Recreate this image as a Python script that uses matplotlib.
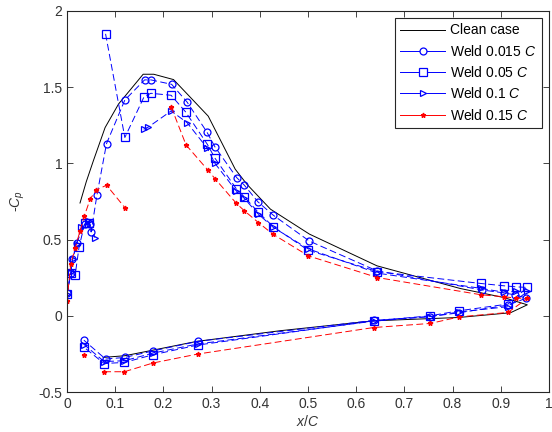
import numpy as np
import matplotlib
matplotlib.use("Agg")
import matplotlib.pyplot as plt
from matplotlib.lines import Line2D
from matplotlib.ticker import FormatStrFormatter

plt.rcParams['font.family'] = ['Liberation Sans', 'DejaVu Sans']
plt.rcParams['mathtext.fontset'] = 'custom'
plt.rcParams['mathtext.rm'] = 'Liberation Sans'
plt.rcParams['mathtext.it'] = 'Liberation Sans:italic'

nan = np.nan

# clean case (upper surface LE->TE, then lower surface TE->LE)
x_clean = [0.027, 0.04, 0.055, 0.079, 0.107, 0.158, 0.18, 0.221, 0.293, 0.349, 0.373, 0.422, 0.503,
           0.643, 0.816, 0.906, 0.955, 0.92, 0.813, 0.636, 0.442, 0.269, 0.179, 0.12, 0.075]
y_clean = [0.74, 0.88, 1.02, 1.235, 1.39, 1.585, 1.585, 1.55, 1.31, 0.962, 0.864, 0.70, 0.536,
           0.328, 0.179, 0.12, 0.072, 0.02, -0.011, -0.033, -0.098, -0.168, -0.225, -0.262, -0.273]

# weld 0.015 C
x_w1 = [0.0, 0.008, 0.011, 0.02, 0.037, 0.048, 0.05, 0.062, 0.082, 0.12, 0.161, 0.174, 0.217, 0.249,
        0.29, 0.307, 0.352, 0.368, 0.396, 0.428, 0.503, 0.643, 0.86, 0.907, 0.93, 0.953,
        0.915, 0.813, 0.754, 0.636, 0.271, 0.179, 0.12, 0.08, 0.035]
y_w1 = [0.15, 0.28, 0.37, 0.48, 0.60, 0.60, 0.55, 0.79, 1.13, 1.416, 1.548, 1.548, 1.519, 1.403,
        1.207, 1.108, 0.907, 0.857, 0.748, 0.66, 0.49, 0.295, 0.17, 0.15, 0.137, 0.116,
        0.07, 0.02, -0.005, -0.03, -0.168, -0.23, -0.273, -0.284, -0.16]

# weld 0.05 C
x_w2 = [0.0, 0.008, 0.017, 0.025, 0.037, 0.045, nan, 0.08, 0.12, 0.16, 0.174, 0.216, 0.246, 0.291,
        0.307, 0.351, 0.368, 0.396, 0.428, 0.5, 0.644, 0.859, 0.906, 0.932, 0.955,
        0.915, 0.813, 0.754, 0.636, 0.271, 0.178, 0.119, 0.077, 0.036]
y_w2 = [0.14, 0.28, 0.27, 0.45, 0.61, 0.61, nan, 1.85, 1.17, 1.438, 1.46, 1.447, 1.338, 1.126,
        1.034, 0.835, 0.78, 0.682, 0.584, 0.431, 0.29, 0.212, 0.197, 0.19, 0.186,
        0.077, 0.033, 0.0, -0.033, -0.192, -0.256, -0.306, -0.313, -0.208]

# weld 0.1 C
x_w3 = [0.0, 0.008, 0.012, 0.02, 0.03, 0.045, 0.058, nan, 0.159, 0.169, 0.216, 0.249, 0.291, 0.307,
        0.351, 0.368, 0.396, 0.428, 0.5, 0.644, 0.859, 0.906, 0.932, 0.955,
        0.915, 0.813, 0.754, 0.636, 0.271, 0.178, 0.119, 0.077, 0.036]
y_w3 = [0.14, 0.29, 0.37, 0.47, 0.58, 0.62, 0.513, nan, 1.224, 1.239, 1.344, 1.268, 1.10, 1.00,
        0.82, 0.77, 0.67, 0.58, 0.44, 0.28, 0.18, 0.155, 0.16, 0.16,
        0.06, 0.025, -0.005, -0.035, -0.185, -0.245, -0.295, -0.30, -0.19]

# weld 0.15 C
x_w4 = [0.0, 0.008, 0.017, 0.027, 0.036, 0.048, 0.06, 0.082, 0.12, nan, 0.216, 0.247, 0.292, 0.307,
        0.351, 0.368, 0.397, 0.427, 0.501, 0.644, 0.859, 0.906, 0.932, 0.955,
        0.915, 0.814, 0.754, 0.636, 0.271, 0.178, 0.119, 0.077, nan, 0.036]
y_w4 = [0.10, 0.343, 0.444, 0.557, 0.655, 0.765, 0.824, 0.857, 0.71, nan, 1.372, 1.121, 0.957, 0.9,
        0.739, 0.689, 0.612, 0.536, 0.393, 0.251, 0.138, 0.125, 0.116, 0.114,
        0.022, -0.007, -0.05, -0.077, -0.251, -0.31, -0.367, -0.367, nan, -0.256]

labels = ['Clean case', 'Weld 0.015 $C$', 'Weld 0.05 $C$', 'Weld 0.1 $C$', 'Weld 0.15 $C$']

fig = plt.figure(figsize=(5.52, 4.32), dpi=100)
ax = fig.add_axes([67 / 552, 40 / 432, 482 / 552, 381 / 432])

lw = 0.7
mw = 0.9
dash = (0, (7, 3.5))
ax.plot(x_clean, y_clean, color='k', lw=lw)
ax.plot(x_w1, y_w1, color='b', lw=lw, ls=dash, marker='o', ms=5, mfc='none', mec='b', mew=mw)
ax.plot(x_w2, y_w2, color='b', lw=lw, ls=dash, marker='s', ms=5.5, mfc='none', mec='b', mew=mw)
ax.plot(x_w3, y_w3, color='b', lw=lw, ls=dash, marker='>', ms=5, mfc='none', mec='b', mew=mw)
ax.plot(x_w4, y_w4, color='r', lw=lw, ls=dash, marker='*', ms=3.5)

ax.set_xlim(0, 1)
ax.set_ylim(-0.5, 2)
ax.set_xticks(np.arange(0, 1.01, 0.1))
ax.set_yticks(np.arange(-0.5, 2.01, 0.5))
ax.xaxis.set_major_formatter(FormatStrFormatter('%g'))
ax.yaxis.set_major_formatter(FormatStrFormatter('%g'))
ax.tick_params(direction='in', top=True, right=True, labelsize=10, length=4, width=0.6,
               colors='#262626', labelcolor='#333333')
for s in ax.spines.values():
    s.set_color('#262626')
    s.set_linewidth(0.8)

ax.set_xlabel('$x/C$', fontsize=10, labelpad=2, color='#333333')
ax.set_ylabel('-$C_p$', fontsize=10, labelpad=8, color='#333333')

# legend shows solid lines
handles = [Line2D([], [], color='k', lw=lw),
           Line2D([], [], color='b', lw=lw, marker='o', ms=5, mfc='w', mew=mw),
           Line2D([], [], color='b', lw=lw, marker='s', ms=5.5, mfc='w', mew=mw),
           Line2D([], [], color='b', lw=lw, marker='>', ms=5, mfc='w', mew=mw),
           Line2D([], [], color='r', lw=lw, marker='*', ms=3.5)]
leg = ax.legend(handles, labels, loc='upper right', fontsize=10, handlelength=3.2,
                labelspacing=0.45, borderaxespad=0.5, fancybox=False, framealpha=1,
                edgecolor='#262626', handletextpad=0.4, borderpad=0.4)
leg.get_frame().set_linewidth(0.8)

fig.savefig('out.png', dpi=100)
